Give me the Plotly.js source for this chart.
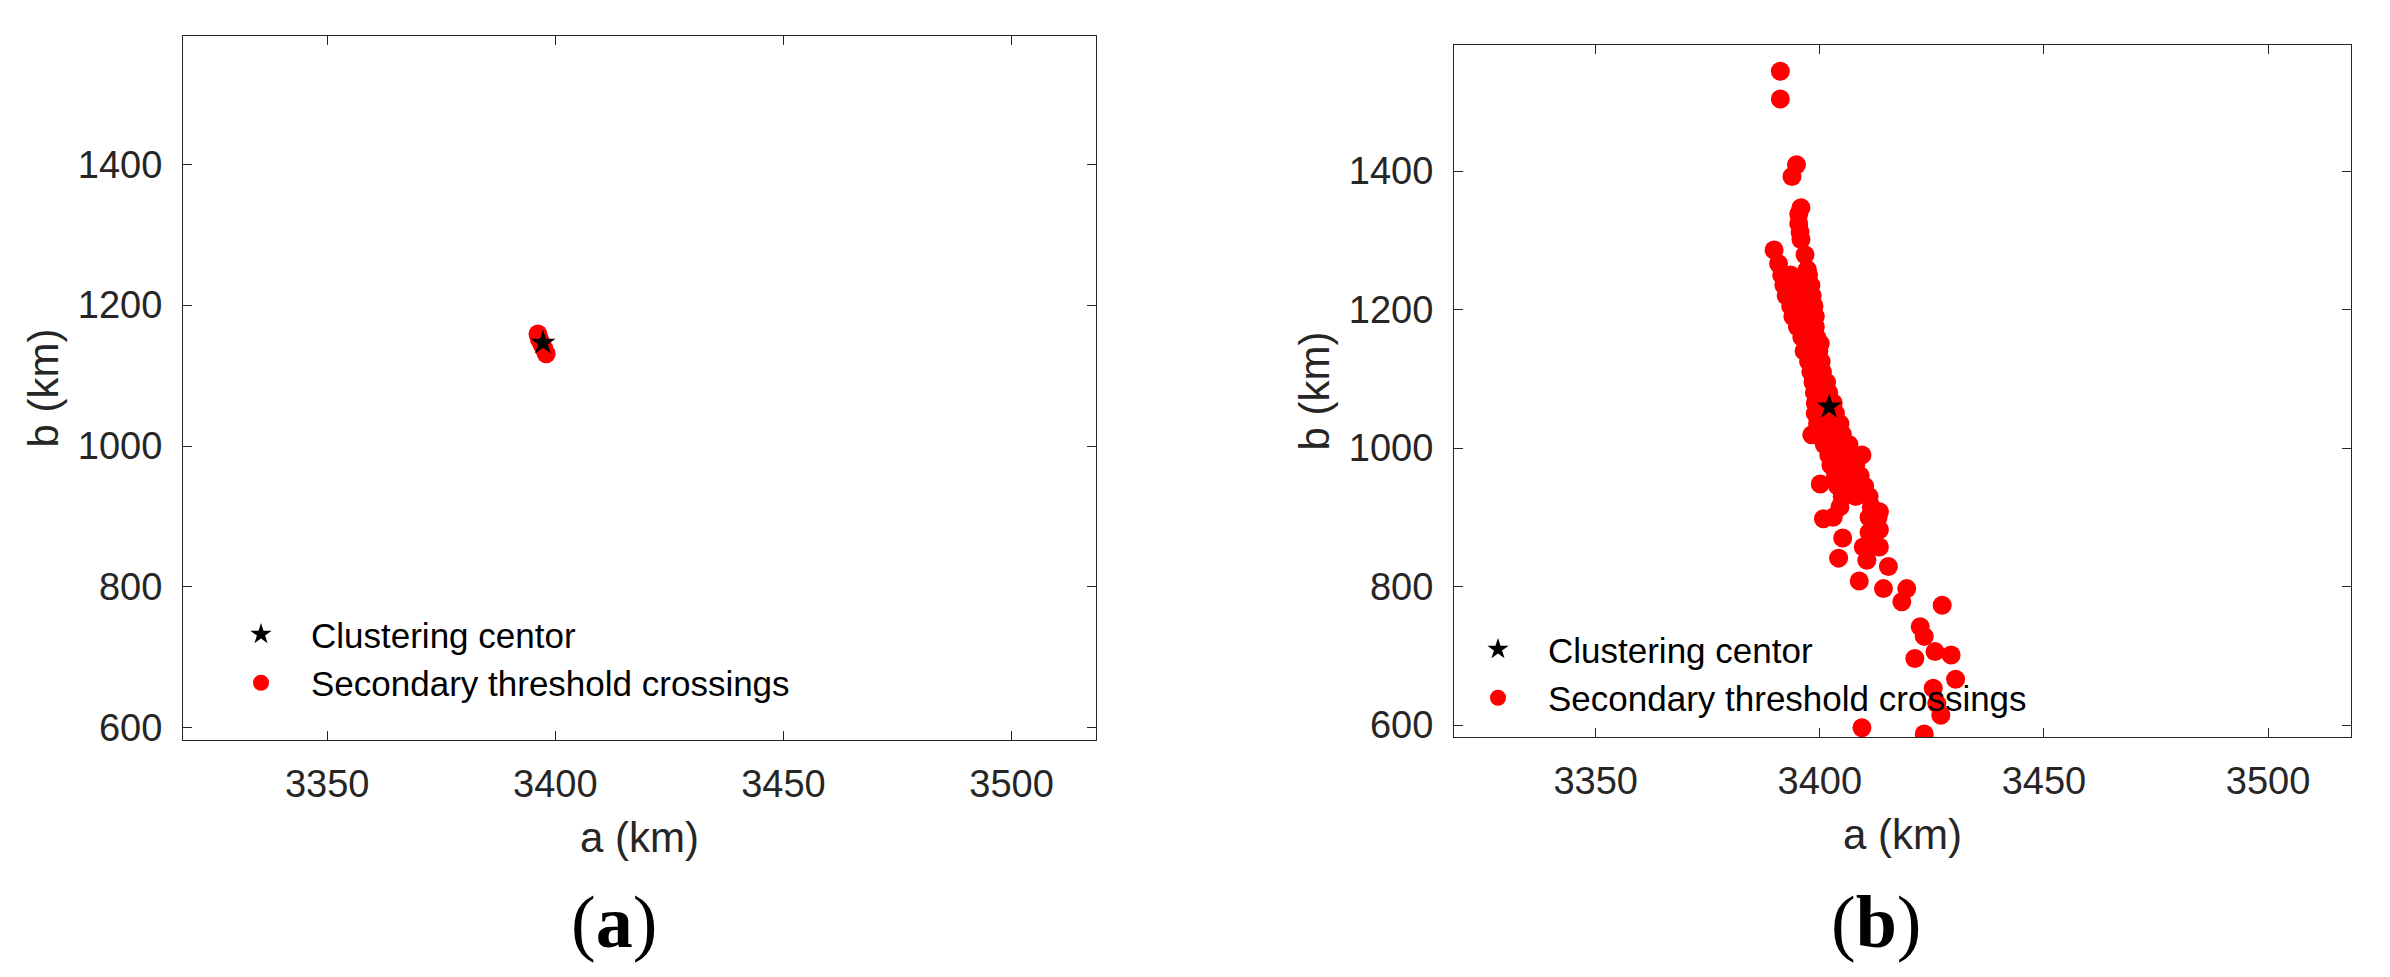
<!DOCTYPE html>
<html>
<head>
<meta charset="utf-8">
<script src="https://cdn.plot.ly/plotly-3.0.1.min.js"></script>
<style>
  html, body { margin: 0; padding: 0; background: #fff; }
  #chart { width: 2390px; height: 977px; }
</style>
</head>
<body>
<div id="chart"></div>
<script>
// panel (a): clustering centre and the few secondary crossings around it
var aCenterA = [3397.3];
var aCenterB = [1146.6];
var aCrossA = [3396.2, 3396.5, 3397.0, 3397.5, 3398.0];
var aCrossB = [1159, 1152, 1145, 1138, 1131];

// panel (b)
var bCenterA = [3402.1];
var bCenterB = [1059.7];
var bCrossA = [
  3391.2, 3391.2, 3394.8, 3393.8, 3395.8, 3395.3, 3395.3, 3395.6, 3395.8, 3389.8, 3396.7, 3397.2, 3390.8,
  3391.5, 3393.5, 3397.5,
  3392.0, 3394.0, 3396.0, 3398.0,
  3392.5, 3394.5, 3396.5, 3398.3,
  3393.5, 3395.5, 3397.5, 3398.7,
  3394.0, 3396.0, 3398.0, 3399.0,
  3395.0, 3397.0, 3399.0,
  3396.0, 3397.5, 3399.3,
  3400.1,
  3396.5, 3398.0, 3399.8,
  3397.5, 3399.0, 3400.3,
  3398.0, 3399.5, 3400.6,
  3398.5, 3400.0, 3401.5,
  3398.8, 3400.5, 3402.0,
  3399.0, 3401.0, 3403.0,
  3399.0, 3401.5, 3403.5,
  3399.5, 3402.0, 3404.5,
  3398.2,
  3400.5, 3402.5, 3405.0,
  3401.0, 3403.5, 3406.5,
  3402.0, 3404.5, 3407.5, 3409.4,
  3402.5, 3405.0, 3408.0,
  3403.5, 3406.0, 3409.0,
  3400.1,
  3404.0, 3407.0, 3410.0,
  3405.0, 3408.0, 3411.0,
  3404.5, 3411.5,
  3400.8, 3403.0, 3411.0, 3413.0,
  3404.2, 3408.8, 3405.1, 3410.5, 3414.2, 3418.3, 3419.4, 3415.3, 3413.3, 3413.3,
  3413.3, 3411.0, 3409.7, 3411.5, 3427.3, 3422.4, 3423.3, 3421.2, 3425.7, 3429.3,
  3430.3, 3425.3, 3426.1, 3427.0, 3409.4, 3423.3
];
var bCrossB = [
  1544, 1504, 1409, 1392, 1347, 1338, 1324, 1312, 1301, 1286, 1279, 1258, 1266,
  1250, 1250, 1250,
  1235, 1235, 1235, 1235,
  1220, 1220, 1220, 1220,
  1205, 1205, 1205, 1205,
  1190, 1190, 1190, 1190,
  1175, 1175, 1175,
  1160, 1160, 1160,
  1151,
  1140, 1140, 1140,
  1125, 1125, 1125,
  1110, 1110, 1110,
  1095, 1095, 1095,
  1080, 1080, 1080,
  1065, 1065, 1065,
  1050, 1050, 1050,
  1035, 1035, 1035,
  1019,
  1020, 1020, 1020,
  1005, 1005, 1005,
  990, 990, 990, 990,
  975, 975, 975,
  960, 960, 960,
  948,
  945, 945, 945,
  930, 930, 930,
  915, 915,
  898, 900, 900, 900,
  841, 808, 870, 838, 797, 778, 797, 829, 857, 882,
  908, 878, 857, 870, 773, 742, 728, 696, 706, 701,
  666, 653, 631, 614, 596, 587
];

var xTicks = [3350, 3400, 3450, 3500];
var yTicks = [600, 800, 1000, 1200, 1400];
var names = ['Clustering centor', 'Secondary threshold crossings'];

var ink = '#262626';
var sans = 'Liberation Sans, Arial, sans-serif';

function xAxis(dom) {
  return {
    domain: dom, range: [3318.4, 3518.5],
    showline: true, mirror: 'ticks', linecolor: ink, linewidth: 1,
    ticks: 'inside', ticklen: 9, tickwidth: 1, tickcolor: ink,
    tickmode: 'array', tickvals: xTicks, ticklabelstandoff: 10,
    showgrid: false, zeroline: false,
    tickfont: {family: sans, size: 38, color: ink},
    title: {text: 'a (km)', standoff: 19, font: {family: sans, size: 42, color: ink}}
  };
}
function yAxis(dom, anchor) {
  return {
    domain: dom, range: [582.7, 1582], anchor: anchor,
    showline: true, mirror: 'ticks', linecolor: ink, linewidth: 1,
    ticks: 'inside', ticklen: 9, tickwidth: 1, tickcolor: ink,
    tickmode: 'array', tickvals: yTicks, ticklabelstandoff: 12,
    showgrid: false, zeroline: false,
    tickfont: {family: sans, size: 38, color: ink},
    title: {text: 'b (km)', standoff: 6, font: {family: sans, size: 42, color: ink}}
  };
}

var data = [
  {x: aCrossA, y: aCrossB, name: names[1], type: 'scatter', mode: 'markers',
   xaxis: 'x', yaxis: 'y', legend: 'legend', legendrank: 2,
   marker: {color: '#ff0000', size: 19, line: {width: 0}}},
  {x: aCenterA, y: aCenterB, name: names[0], type: 'scatter', mode: 'markers',
   xaxis: 'x', yaxis: 'y', legend: 'legend', legendrank: 1,
   marker: {color: '#000000', symbol: 'star', size: 19, line: {width: 0}}},
  {x: bCrossA, y: bCrossB, name: names[1], type: 'scatter', mode: 'markers',
   xaxis: 'x2', yaxis: 'y2', legend: 'legend2', legendrank: 2,
   marker: {color: '#ff0000', size: 19, line: {width: 0}}},
  {x: bCenterA, y: bCenterB, name: names[0], type: 'scatter', mode: 'markers',
   xaxis: 'x2', yaxis: 'y2', legend: 'legend2', legendrank: 1,
   marker: {color: '#000000', symbol: 'star', size: 19, line: {width: 0}}}
];

var legendBase = {
  xanchor: 'left', yanchor: 'top', bgcolor: 'rgba(0,0,0,0)', borderwidth: 0,
  itemwidth: 90, font: {family: sans, size: 35, color: '#000'}
};

var serif = 'Liberation Serif, Times New Roman, serif';

var layout = {
  width: 2390, height: 977,
  margin: {t: 0, b: 0, l: 0, r: 0},
  paper_bgcolor: '#fff', plot_bgcolor: '#fff',
  showlegend: true,
  xaxis: xAxis([183 / 2390, 1096 / 2390]),
  yaxis: yAxis([1 - 740 / 977, 1 - 36 / 977], 'x'),
  xaxis2: Object.assign(xAxis([1454 / 2390, 2351 / 2390]), {anchor: 'y2'}),
  yaxis2: yAxis([1 - 737 / 977, 1 - 45 / 977], 'x2'),
  legend: Object.assign({x: 211 / 2390, y: 1 - 605 / 977}, legendBase),
  legend2: Object.assign({x: 1448 / 2390, y: 1 - 620 / 977}, legendBase),
  annotations: [
    {text: '(<b>a</b>)', xref: 'paper', yref: 'paper', x: 614 / 2390, y: 1 - 922 / 977,
     xanchor: 'center', yanchor: 'middle', showarrow: false,
     font: {family: serif, size: 74, color: '#000'}},
    {text: '(<b>b</b>)', xref: 'paper', yref: 'paper', x: 1876 / 2390, y: 1 - 922 / 977,
     xanchor: 'center', yanchor: 'middle', showarrow: false,
     font: {family: serif, size: 74, color: '#000'}}
  ]
};

Plotly.newPlot('chart', data, layout, {displayModeBar: false, staticPlot: true});
</script>
</body>
</html>
